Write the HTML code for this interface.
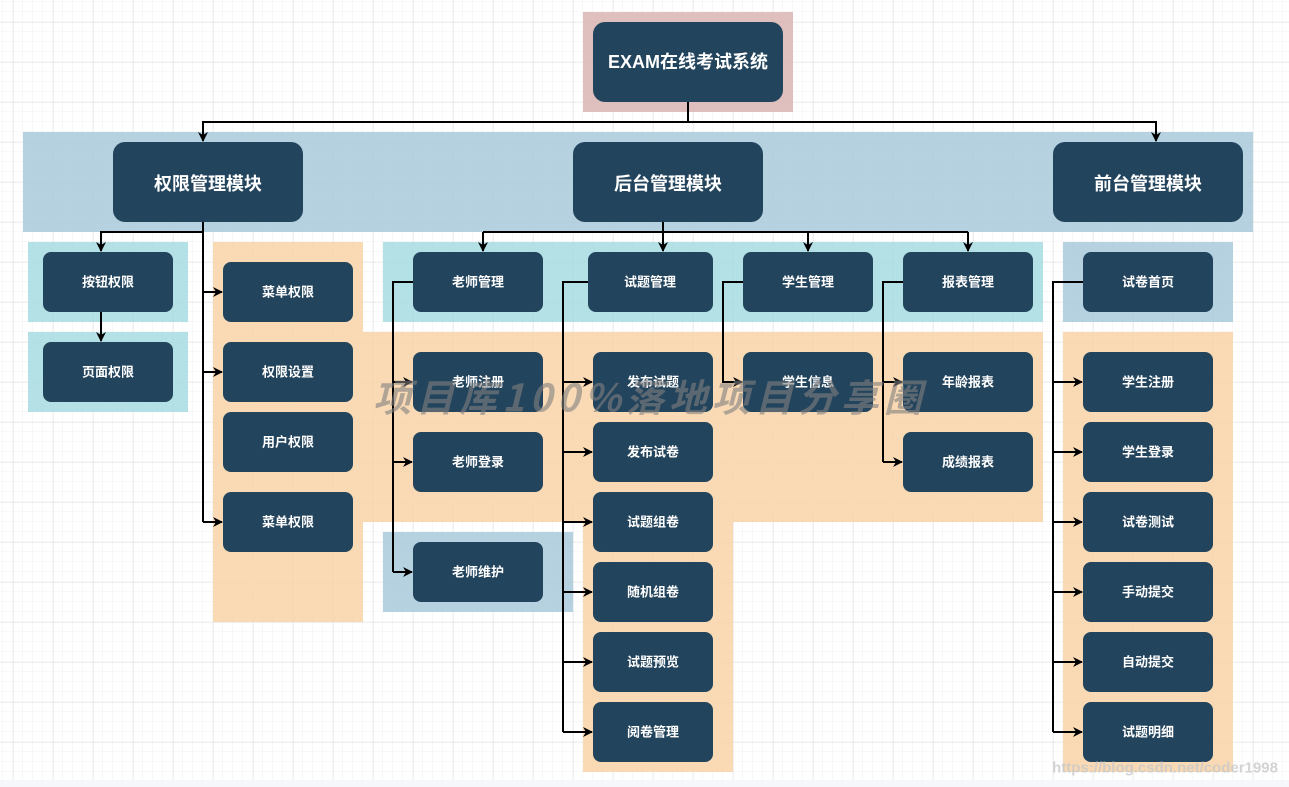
<!DOCTYPE html>
<html><head><meta charset="utf-8"><style>
html,body{margin:0;padding:0;width:1289px;height:787px;overflow:hidden;background:#fff}
svg{display:block}
text{font-family:"Liberation Sans","Noto Sans CJK SC",sans-serif;font-weight:bold;fill:#fff;text-anchor:middle;dominant-baseline:central}
</style></head><body>
<svg width="1289" height="787" viewBox="0 0 1289 787" xmlns="http://www.w3.org/2000/svg">
<defs>
<pattern id="minor" x="3" y="2" width="10" height="10" patternUnits="userSpaceOnUse"><path d="M10 0V10M0 10H10" stroke="#f0f0f0" stroke-width="1" fill="none"/></pattern>
<pattern id="major" x="13" y="22" width="40" height="40" patternUnits="userSpaceOnUse"><path d="M0 0V40M0 0H40" stroke="#e0e0e0" stroke-width="1" fill="none"/></pattern>
<marker id="a" markerWidth="10" markerHeight="10" refX="9" refY="5" orient="auto" markerUnits="userSpaceOnUse"><path d="M0,0 L10,5 L0,10 L3,5 z" fill="#000"/></marker>
</defs>
<rect width="1289" height="787" fill="url(#minor)"/>
<rect width="1289" height="787" fill="url(#major)"/>
<rect x="0" y="780" width="1289" height="7" fill="#f5f7fa"/>
<g opacity="0.85">
<rect x="583" y="12" width="210" height="100" fill="#dbb4b4"/>
<rect x="23" y="132" width="1230" height="100" fill="#aacbdb"/>
<rect x="28" y="242" width="160" height="80" fill="#a8dce2"/>
<rect x="28" y="332" width="160" height="80" fill="#a8dce2"/>
<rect x="213" y="242" width="150" height="380" fill="#f8d4a8"/>
<rect x="383" y="242" width="660" height="80" fill="#a8dce2"/>
<path d="M363 332H1043V522H733V772H583V522H363Z" fill="#f8d4a8"/>
<rect x="383" y="532" width="190" height="80" fill="#aacbdb"/>
<rect x="1063" y="242" width="170" height="80" fill="#aacbdb"/>
<rect x="1063" y="332" width="170" height="440" fill="#f8d4a8"/>
</g>
<g stroke="#000" stroke-width="2" fill="none">
<path d="M688 102V122H203V141" marker-end="url(#a)"/>
<path d="M688 122H1156V141" marker-end="url(#a)"/>
<path d="M203 222V232H101V251" marker-end="url(#a)"/>
<path d="M101 312V341" marker-end="url(#a)"/>
<path d="M203 232V522"/>
<path d="M203 292H222" marker-end="url(#a)"/>
<path d="M203 372H222" marker-end="url(#a)"/>
<path d="M203 522H222" marker-end="url(#a)"/>
<path d="M663 222V251" marker-end="url(#a)"/>
<path d="M483 232H968"/>
<path d="M483 232V251" marker-end="url(#a)"/>
<path d="M808 232V251" marker-end="url(#a)"/>
<path d="M968 232V251" marker-end="url(#a)"/>
<path d="M413 282H393V572"/>
<path d="M393 382H412" marker-end="url(#a)"/>
<path d="M393 462H412" marker-end="url(#a)"/>
<path d="M393 572H412" marker-end="url(#a)"/>
<path d="M588 282H563V732"/>
<path d="M563 382H592" marker-end="url(#a)"/>
<path d="M563 452H592" marker-end="url(#a)"/>
<path d="M563 522H592" marker-end="url(#a)"/>
<path d="M563 592H592" marker-end="url(#a)"/>
<path d="M563 662H592" marker-end="url(#a)"/>
<path d="M563 732H592" marker-end="url(#a)"/>
<path d="M743 282H723V382H742" marker-end="url(#a)"/>
<path d="M903 282H883V462"/>
<path d="M883 382H902" marker-end="url(#a)"/>
<path d="M883 462H902" marker-end="url(#a)"/>
<path d="M1083 282H1053V732"/>
<path d="M1053 382H1082" marker-end="url(#a)"/>
<path d="M1053 452H1082" marker-end="url(#a)"/>
<path d="M1053 522H1082" marker-end="url(#a)"/>
<path d="M1053 592H1082" marker-end="url(#a)"/>
<path d="M1053 662H1082" marker-end="url(#a)"/>
<path d="M1053 732H1082" marker-end="url(#a)"/>
</g>
<g fill="#23445d">
<rect x="593" y="22" width="190" height="80" rx="12"/>
<rect x="113" y="142" width="190" height="80" rx="12"/>
<rect x="573" y="142" width="190" height="80" rx="12"/>
<rect x="1053" y="142" width="190" height="80" rx="12"/>
<rect x="43" y="252" width="130" height="60" rx="8"/>
<rect x="43" y="342" width="130" height="60" rx="8"/>
<rect x="223" y="262" width="130" height="60" rx="8"/>
<rect x="223" y="342" width="130" height="60" rx="8"/>
<rect x="223" y="412" width="130" height="60" rx="8"/>
<rect x="223" y="492" width="130" height="60" rx="8"/>
<rect x="413" y="252" width="130" height="60" rx="8"/>
<rect x="588" y="252" width="125" height="60" rx="8"/>
<rect x="743" y="252" width="130" height="60" rx="8"/>
<rect x="903" y="252" width="130" height="60" rx="8"/>
<rect x="413" y="352" width="130" height="60" rx="8"/>
<rect x="413" y="432" width="130" height="60" rx="8"/>
<rect x="413" y="542" width="130" height="60" rx="8"/>
<rect x="593" y="352" width="120" height="60" rx="8"/>
<rect x="593" y="422" width="120" height="60" rx="8"/>
<rect x="593" y="492" width="120" height="60" rx="8"/>
<rect x="593" y="562" width="120" height="60" rx="8"/>
<rect x="593" y="632" width="120" height="60" rx="8"/>
<rect x="593" y="702" width="120" height="60" rx="8"/>
<rect x="743" y="352" width="130" height="60" rx="8"/>
<rect x="903" y="352" width="130" height="60" rx="8"/>
<rect x="903" y="432" width="130" height="60" rx="8"/>
<rect x="1083" y="252" width="130" height="60" rx="8"/>
<rect x="1083" y="352" width="130" height="60" rx="8"/>
<rect x="1083" y="422" width="130" height="60" rx="8"/>
<rect x="1083" y="492" width="130" height="60" rx="8"/>
<rect x="1083" y="562" width="130" height="60" rx="8"/>
<rect x="1083" y="632" width="130" height="60" rx="8"/>
<rect x="1083" y="702" width="130" height="60" rx="8"/>
</g>
<g font-size="18">
<text x="688" y="62">EXAM在线考试系统</text>
<text x="208" y="184">权限管理模块</text>
<text x="668" y="184">后台管理模块</text>
<text x="1148" y="184">前台管理模块</text>
</g>
<g font-size="13">
<text x="108" y="282">按钮权限</text>
<text x="108" y="372">页面权限</text>
<text x="288" y="292">菜单权限</text>
<text x="288" y="372">权限设置</text>
<text x="288" y="442">用户权限</text>
<text x="288" y="522">菜单权限</text>
<text x="478" y="282">老师管理</text>
<text x="650" y="282">试题管理</text>
<text x="808" y="282">学生管理</text>
<text x="968" y="282">报表管理</text>
<text x="478" y="382">老师注册</text>
<text x="478" y="462">老师登录</text>
<text x="478" y="572">老师维护</text>
<text x="653" y="382">发布试题</text>
<text x="653" y="452">发布试卷</text>
<text x="653" y="522">试题组卷</text>
<text x="653" y="592">随机组卷</text>
<text x="653" y="662">试题预览</text>
<text x="653" y="732">阅卷管理</text>
<text x="808" y="382">学生信息</text>
<text x="968" y="382">年龄报表</text>
<text x="968" y="462">成绩报表</text>
<text x="1148" y="282">试卷首页</text>
<text x="1148" y="382">学生注册</text>
<text x="1148" y="452">学生登录</text>
<text x="1148" y="522">试卷测试</text>
<text x="1148" y="592">手动提交</text>
<text x="1148" y="662">自动提交</text>
<text x="1148" y="732">试题明细</text>
</g>
<text x="650" y="395" font-size="38" font-style="italic" font-weight="normal" letter-spacing="5" style="fill:rgba(128,128,128,0.6);font-family:'Noto Sans CJK SC','Liberation Sans',sans-serif">项目库100%落地项目分享圈</text>
<text x="1278" y="768" font-size="15" font-weight="normal" style="fill:rgba(200,200,200,0.8);text-anchor:end">https://blog.csdn.net/coder1998</text>
</svg>
</body></html>
